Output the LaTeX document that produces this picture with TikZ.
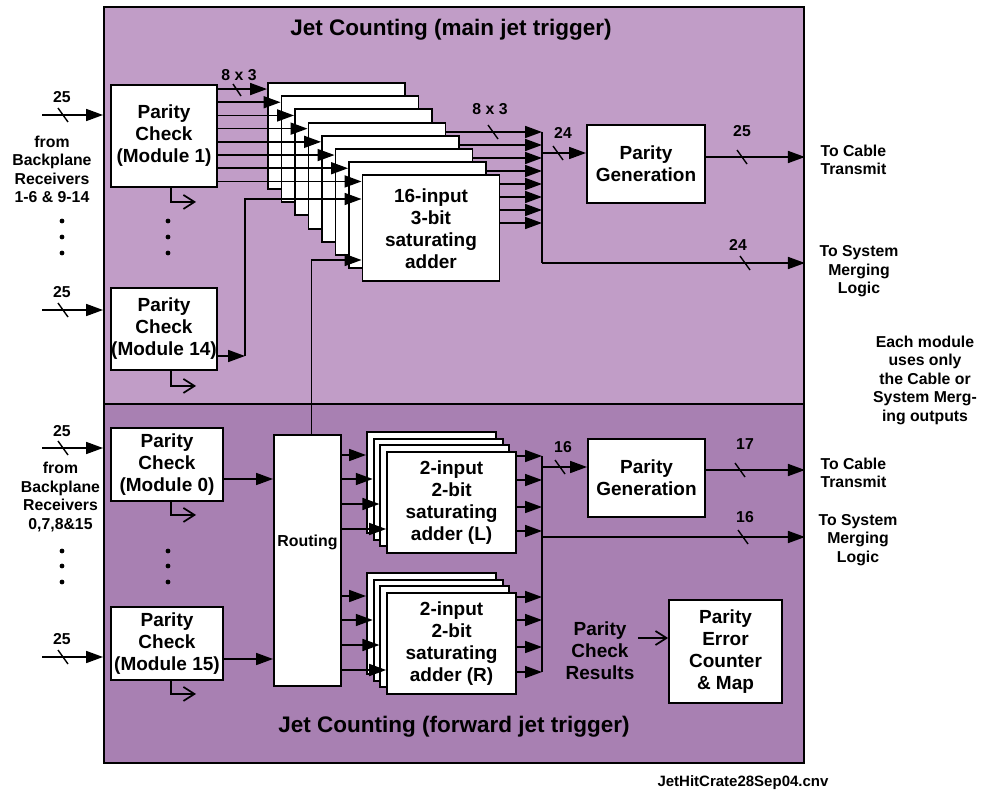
\documentclass[tikz,border=0pt]{standalone}
\usepackage{fontspec}
\setmainfont{Liberation Sans}
\definecolor{jetmain}{RGB}{193,157,199}
\definecolor{jetfwd}{RGB}{168,128,178}
\usetikzlibrary{arrows.meta,positioning,calc}
\newcommand\jbody{\fontsize{19}{22}\selectfont\bfseries}
\newcommand\jside{\fontsize{15.8}{18.5}\selectfont\bfseries}
\newcommand\jtitle{\fontsize{22.5}{26}\selectfont\bfseries}
\newcommand\jroute{\fontsize{15.9}{18}\selectfont\bfseries}
\newcommand\jfile{\fontsize{15}{17}\selectfont\bfseries}
\tikzset{
  blk/.style={draw, fill=white, line width=1.9pt, align=center, font=\jbody, inner sep=0pt},
  panel/.style={draw, line width=1.9pt, inner sep=0pt},
  wire/.style={line width=1.7pt},
  sig/.style={wire, -{Triangle[length=17pt,width=12pt]}},
  tap/.style={wire, -{Straight Barb[length=11pt,width=14pt]}},
  busmark/.style={line width=1.4pt},
  buslbl/.style={font=\jside},
  side/.style={font=\jside, align=center},
}

\begin{document}
\begin{tikzpicture}[x=1pt, y=-1pt]
  \useasboundingbox (0,0) rectangle (981,794);

  % Panels
  \node[panel, fill=jetmain, minimum width=700pt, minimum height=397pt] (jtop) at (454,205.5) {};
  \node[panel, fill=jetfwd, minimum width=700pt, minimum height=359pt] (jfwd) at (454,583.5) {};
  \node[font=\jtitle] (ttop) at (451,30) {Jet Counting (main jet trigger)};
  \node[font=\jtitle] (tfwd) at (454,727) {Jet Counting (forward jet trigger)};

  % Parity checks
  \node[blk, minimum width=106pt, minimum height=102pt] (pc1) at (164,136) {Parity\\Check\\(Module 1)};
  \node[blk, minimum width=106pt, minimum height=82pt] (pc14) at (164,329) {Parity\\Check\\(Module 14)};
  \node[blk, minimum width=112pt, minimum height=73pt] (pc0) at (167,464.5) {Parity\\Check\\(Module 0)};
  \node[blk, minimum width=112pt, minimum height=73pt] (pc15) at (167,643.5) {Parity\\Check\\(Module 15)};

  % 16-input adder stack
  \foreach \k in {1,...,7}
    \node[blk, minimum width=137pt, minimum height=106pt] (add\k) at ({336.5+13.5*(\k-1)},{136+13.2*(\k-1)}) {};
  \node[blk, minimum width=137pt, minimum height=106pt] (add8) at (431,228.4) {16-input\\3-bit\\saturating\\adder};

  % 2-input adder stacks
  \foreach \k in {1,2,3} {
    \node[blk, minimum width=129pt, minimum height=101pt] (addL\k) at ({431.5+6.7*(\k-1)},{482.5+6.7*(\k-1)}) {};
    \node[blk, minimum width=129pt, minimum height=101pt] (addR\k) at ({431.5+6.7*(\k-1)},{623.5+6.7*(\k-1)}) {};
  }
  \node[blk, minimum width=129pt, minimum height=101pt] (addL4) at (451.6,502.6) {2-input\\2-bit\\saturating\\adder (L)};
  \node[blk, minimum width=129pt, minimum height=101pt] (addR4) at (451.6,643.6) {2-input\\2-bit\\saturating\\adder (R)};

  \node[blk, minimum width=67pt, minimum height=251pt, label={[font=\jroute, yshift=18pt]center:Routing}] (rt) at (307.5,560.5) {};
  \node[blk, minimum width=118pt, minimum height=78pt] (pg1) at (646,164) {Parity\\Generation};
  \node[blk, minimum width=117pt, minimum height=78pt] (pg2) at (646.5,478) {Parity\\Generation};
  \node[blk, minimum width=113pt, minimum height=103pt] (pe) at (725.5,651.5) {Parity\\Error\\Counter\\\& Map};
  \node[font=\jbody, align=center] (pcr) at (600,651) {Parity\\Check\\Results};

  % Side texts
  \node[side] (from1) at (52,169.5) {from\\Backplane\\Receivers\\1-6 \& 9-14};
  \node[side] (from0) at (60.5,497) {from\\Backplane\\Receivers\\0,7,8\&15};
  \node[side, align=left, anchor=west] (cab1) at (817,160) {To Cable\\Transmit};
  \node[side] (sys1) at (859,271.5) {To System\\Merging\\Logic};
  \node[side, align=left, anchor=west] (cab2) at (817,473) {To Cable\\Transmit};
  \node[side] (sys2) at (858,540) {To System\\Merging\\Logic};
  \node[side] (note) at (925,380) {Each module\\uses only\\the Cable or\\System Merg-\\ing outputs};
  \node[font=\jfile] (fname) at (743,783) {JetHitCrate28Sep04.cnv};

  % Inputs from backplane
  \coordinate (src1) at (42,115);
  \coordinate (src14) at (42,310);
  \coordinate (src0) at (42,448);
  \coordinate (src15) at (42,657);
  \draw[sig] (src1) -- (jtop.west |- src1);
  \draw[sig] (src14) -- (jtop.west |- src14);
  \draw[sig] (src0) -- (jfwd.west |- src0);
  \draw[sig] (src15) -- (jfwd.west |- src15);
  \foreach \y in {115,310,448,657}
    \draw[busmark] (63,\y) ++(-5,-7) -- ++(10,14);
  \node[buslbl] (w1) at (62,97) {25};
  \node[buslbl] (w2) at (62,292) {25};
  \node[buslbl] (w3) at (62,431) {25};
  \node[buslbl] (w4) at (62,639) {25};

  % Dots
  \foreach \x in {62,168}
    \foreach \y in {221,237,253,551,566,582}
      \fill (\x,\y) circle (2.4pt);

  % Parity check taps
  \draw[tap] ([xshift=7pt]pc1.south) |- ++(25,14);
  \draw[tap] ([xshift=7pt]pc14.south) |- ++(25,15);
  \draw[tap] ([xshift=4pt]pc0.south) |- ++(25,13);
  \draw[tap] ([xshift=4pt]pc15.south) |- ++(25,13);

  % Module 1 into the stack
  \foreach \k in {1,...,8} {
    \coordinate (in\k) at ($(add\k.north west)+(0,7)$);
    \draw[sig] (pc1.east |- in\k) -- (in\k);
  }
  \draw[busmark] (237,90) ++(-4,-6) -- ++(8,12);
  \node[buslbl] (w5) at (239,75) {8 x 3};

  % Module 14 and routing into the front adder
  \coordinate (c14) at (245,356);
  \draw[sig] (pc14.east |- c14) -- (c14);
  \draw[sig] (c14) |- (add8.west |- 0,199);
  \draw[sig] ([xshift=4pt]rt.north) |- (add8.west |- 0,260);

  % Stack outputs to bus
  \coordinate (bus1t) at (542,132);
  \coordinate (bus1b) at (542,263);
  \foreach \j/\b [evaluate=\j as \yy using {132+13*(\j-1)}] in {1/4,2/5,3/6,4/7,5/8,6/8,7/8,8/8}
    \draw[sig] (add\b.east |- 0,\yy) -- (bus1t |- 0,\yy);
  \draw[wire] (bus1t) -- (bus1b);
  \draw[sig] (bus1b) -- (jtop.east |- bus1b);
  \draw[sig] (bus1t |- 0,153) -- (pg1.west |- 0,153);
  \draw[sig] (pg1.east |- 0,157) -- (jtop.east |- 0,157);
  \draw[busmark] (493,132) ++(-5,-7) -- ++(10,14);
  \draw[busmark] (558,153) ++(-5,-7) -- ++(10,14);
  \draw[busmark] (742,157) ++(-5,-7) -- ++(10,14);
  \draw[busmark] (745,263) ++(-5,-7) -- ++(10,14);
  \node[buslbl] (w6) at (490,109) {8 x 3};
  \node[buslbl] (w7) at (563,133) {24};
  \node[buslbl] (w8) at (742,131) {25};
  \node[buslbl] (w9) at (738,245) {24};

  % Forward part
  \draw[sig] (pc0.east |- 0,479) -- (rt.west |- 0,479);
  \draw[sig] (pc15.east |- 0,659) -- (rt.west |- 0,659);
  \foreach \k/\y in {1/455,2/479,3/504,4/529}
    \draw[sig] (rt.east |- 0,\y) -- (addL\k.west |- 0,\y);
  \foreach \k/\y in {1/596,2/620,3/645,4/670}
    \draw[sig] (rt.east |- 0,\y) -- (addR\k.west |- 0,\y);
  \coordinate (bus2t) at (542,456);
  \coordinate (bus2b) at (542,672);
  \foreach \y in {456,480,507,531}
    \draw[sig] (addL4.east |- 0,\y) -- (bus2t |- 0,\y);
  \foreach \y in {597,620,647,672}
    \draw[sig] (addR4.east |- 0,\y) -- (bus2t |- 0,\y);
  \draw[wire] (bus2t) -- (bus2b);
  \draw[sig] (bus2t |- 0,467) -- (pg2.west |- 0,467);
  \draw[sig] (pg2.east |- 0,470) -- (jfwd.east |- 0,470);
  \draw[sig] (bus2t |- 0,537) -- (jfwd.east |- 0,537);
  \draw[tap] (pcr.east |- 0,638) -- (pe.west |- 0,638);
  \draw[busmark] (560,467) ++(-5,-7) -- ++(10,14);
  \draw[busmark] (740,470) ++(-5,-7) -- ++(10,14);
  \draw[busmark] (743,537) ++(-5,-7) -- ++(10,14);
  \node[buslbl] (w10) at (563,447) {16};
  \node[buslbl] (w11) at (745,444) {17};
  \node[buslbl] (w12) at (745,517) {16};
\end{tikzpicture}
\end{document}
